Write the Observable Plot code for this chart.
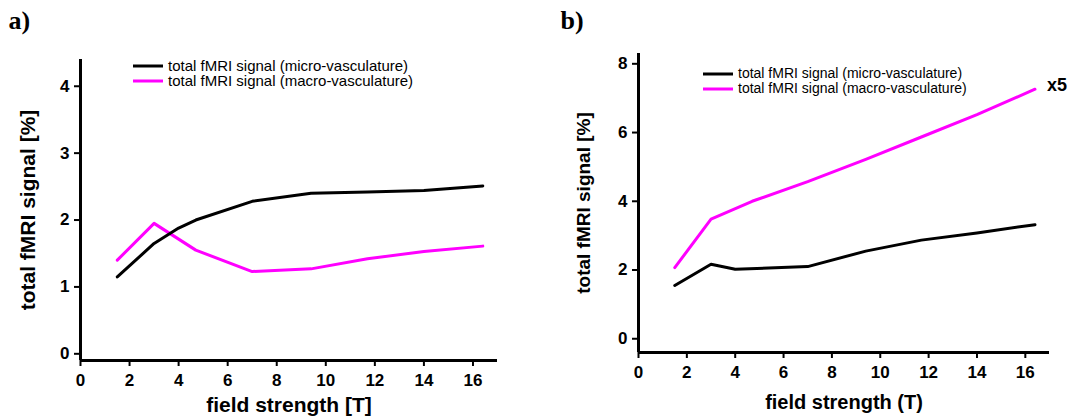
<!DOCTYPE html>
<html><head><meta charset="utf-8">
<script src="https://cdn.jsdelivr.net/npm/d3@7"></script>
<script src="https://cdn.jsdelivr.net/npm/@observablehq/plot@0.6"></script>
<style>
body{margin:0;background:#fff;font-family:"Liberation Sans",Arial,sans-serif;}
#wrap{position:relative;width:1070px;height:420px;overflow:hidden;}
.panel{position:absolute;top:0;}
.legend{position:absolute;color:#000;line-height:15px;white-space:nowrap;}
.legend .row{display:flex;align-items:center;height:15px;}
.legend svg{margin-right:5px;}
</style></head><body><div id="wrap"></div>
<script>
// ---- data ----
const seriesNames = ["total fMRI signal (micro-vasculature)", "total fMRI signal (macro-vasculature)"];
const seriesColors = ["#000000", "#ff00ff"];
const xTicks = [0, 2, 4, 6, 8, 10, 12, 14, 16];

// panel a
const fieldA_micro  = [1.5, 3, 4, 4.7, 7, 9.4, 11.7, 14, 16.4];
const signalA_micro = [1.15, 1.65, 1.88, 2.0, 2.28, 2.40, 2.42, 2.44, 2.51];
const fieldA_macro  = [1.5, 3, 4.7, 7, 9.4, 11.7, 14, 16.4];
const signalA_macro = [1.40, 1.95, 1.55, 1.23, 1.27, 1.42, 1.53, 1.61];
const yTicksA = [0, 1, 2, 3, 4];

// panel b
const fieldB_micro  = [1.5, 3, 4, 7, 9.4, 11.7, 14, 16.4];
const signalB_micro = [1.55, 2.17, 2.02, 2.10, 2.55, 2.87, 3.08, 3.32];
const fieldB_macro  = [1.5, 3, 4.7, 7, 9.4, 11.7, 14, 16.4];
const signalB_macro = [2.07, 3.48, 4.00, 4.57, 5.22, 5.87, 6.52, 7.26];
const yTicksB = [0, 2, 4, 6, 8];
const scaleNote = "x5";

const panels = [
  {label: "a)", xLabel: "field strength [T]", yLabel: "total fMRI signal [%]",
   micro: [fieldA_micro, signalA_micro], macro: [fieldA_macro, signalA_macro],
   yTicks: yTicksA, yDomain: [-0.1, 4.4], left: 0, width: 535,
   margin: {top: 59, bottom: 60, left: 80, right: 38},
   labelDx: -72, labelDy: -49, yLabelDx: -52, xLabelDy: 45, axisFont: 21, yAxisFont: 21, xPad: 7,
   legend: {left: 133, top: 58, font: 15}},
  {label: "b)", xLabel: "field strength (T)", yLabel: "total fMRI signal [%]",
   micro: [fieldB_micro, signalB_micro], macro: [fieldB_macro, signalB_macro],
   yTicks: yTicksB, yDomain: [-0.4, 8.3], left: 535, width: 535,
   margin: {top: 53, bottom: 68, left: 103, right: 21},
   labelDx: -78, labelDy: -43, yLabelDx: -55, xLabelDy: 50, axisFont: 20, yAxisFont: 19, xPad: 7,
   legend: {left: 703 - 535, top: 66, font: 14}, note: scaleNote}
];

const wrap = document.getElementById("wrap");
for (const p of panels) {
  const toRows = ([xs, ys]) => xs.map((x, i) => ({x, y: ys[i]}));
  const micro = toRows(p.micro), macro = toRows(p.macro);
  const marks = [
    Plot.axisX({ticks: xTicks, tickFormat: "d", tickSize: 6, tickPadding: p.xPad, strokeWidth: 2, fontSize: 17, fontWeight: "bold", label: null}),
    Plot.axisY({ticks: p.yTicks, tickFormat: "d", tickSize: 6, tickPadding: 5, strokeWidth: 2, fontSize: 17, fontWeight: "bold", label: null}),
    Plot.ruleY([p.yDomain[0]], {strokeWidth: 3, stroke: "#000"}),
    Plot.ruleX([0], {strokeWidth: 3, stroke: "#000"}),
    Plot.line(macro, {x: "x", y: "y", stroke: seriesColors[1], strokeWidth: 3}),
    Plot.line(micro, {x: "x", y: "y", stroke: seriesColors[0], strokeWidth: 3}),
    Plot.text([p.xLabel], {frameAnchor: "bottom", lineAnchor: "middle", textAnchor: "middle", dy: p.xLabelDy, fontSize: p.axisFont, fontWeight: "bold", fill: "#000"}),
    Plot.text([p.yLabel], {frameAnchor: "left", lineAnchor: "middle", textAnchor: "middle", rotate: -90, dx: p.yLabelDx, fontSize: p.yAxisFont, fontWeight: "bold", fill: "#000"}),
    Plot.text([p.label], {frameAnchor: "top-left", lineAnchor: "top", textAnchor: "start", dx: p.labelDx, dy: p.labelDy, fontSize: 26, fontWeight: "bold", fontFamily: "Liberation Serif, serif", fill: "#000"})
  ];
  if (p.note) {
    marks.push(Plot.text(macro, Plot.selectLast({x: "x", y: "y", text: () => p.note, textAnchor: "start", dx: 12, dy: -4, fontSize: 18, fontWeight: "bold", fill: "#000"})));
  }
  const chart = Plot.plot({
    width: p.width, height: 420,
    marginTop: p.margin.top, marginBottom: p.margin.bottom, marginLeft: p.margin.left, marginRight: p.margin.right,
    x: {domain: [0, 17]},
    y: {domain: p.yDomain},
    style: {fontFamily: "Liberation Sans, Arial, sans-serif", color: "#000", background: "transparent", overflow: "visible"},
    marks
  });
  const div = document.createElement("div");
  div.className = "panel";
  div.style.left = p.left + "px";
  div.appendChild(chart);
  // legend overlay
  const lg = document.createElement("div");
  lg.className = "legend";
  lg.style.left = p.legend.left + "px";
  lg.style.top = p.legend.top + "px";
  lg.style.fontSize = p.legend.font + "px";
  seriesNames.forEach((name, i) => {
    const row = document.createElement("div");
    row.className = "row";
    row.innerHTML = `<svg width="30" height="6"><line x1="0" x2="30" y1="3" y2="3" stroke="${seriesColors[i]}" stroke-width="3"/></svg><span>${name}</span>`;
    lg.appendChild(row);
  });
  div.appendChild(lg);
  wrap.appendChild(div);
}
</script></body></html>
